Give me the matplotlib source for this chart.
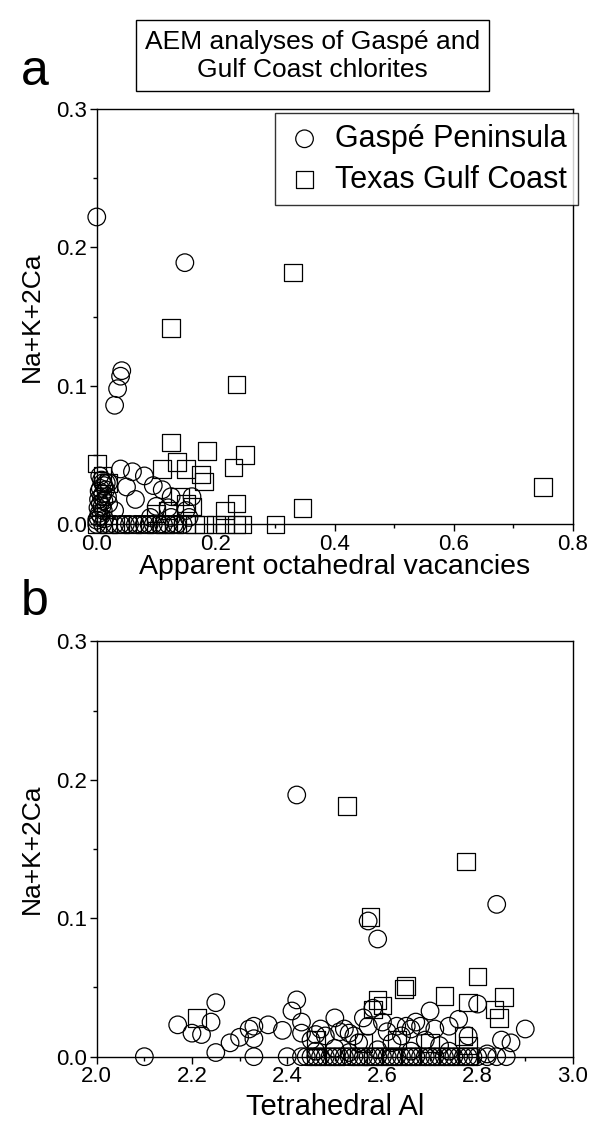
import matplotlib
matplotlib.use("Agg")
import matplotlib.pyplot as plt
from matplotlib.ticker import MultipleLocator, FormatStrFormatter

plt.rcParams['font.family'] = ['Liberation Sans', 'DejaVu Sans']

# panel a: apparent octahedral vacancies vs Na+K+2Ca
gaspe_vac = [0.000, 0.148, 0.042, 0.040, 0.035, 0.030,
             0.040, 0.060, 0.080, 0.095, 0.110, 0.125, 0.160, 0.050, 0.065,
             0.100, 0.120, 0.150, 0.090, 0.125, 0.155, 0.145, 0.020, 0.030,
             0.005, 0.008, 0.010, 0.012, 0.006, 0.004, 0.010, 0.008, 0.003,
             0.012, 0.006, 0.009, 0.002, 0.011, 0.004, 0.007, 0.013, 0.015,
             0.018, 0.020, 0.002, 0.016, 0.000,
             0.000, 0.010, 0.020, 0.030, 0.040, 0.048, 0.055, 0.065, 0.072,
             0.080, 0.088, 0.095, 0.105, 0.112, 0.120, 0.130, 0.135]
gaspe_alk_a = [0.222, 0.189, 0.111, 0.107, 0.098, 0.086,
               0.040, 0.038, 0.035, 0.028, 0.025, 0.020, 0.020, 0.027, 0.018,
               0.013, 0.012, 0.010, 0.005, 0.005, 0.005, 0.000, 0.030, 0.010,
               0.035, 0.032, 0.030, 0.028, 0.026, 0.024, 0.022, 0.020, 0.018,
               0.017, 0.015, 0.013, 0.012, 0.010, 0.008, 0.006, 0.004, 0.025,
               0.020, 0.015, 0.005, 0.030, 0.003,
               0.000, 0.000, 0.000, 0.000, 0.000, 0.000, 0.000, 0.000, 0.000,
               0.000, 0.000, 0.000, 0.000, 0.000, 0.000, 0.000, 0.000]

texas_vac = [0.330, 0.125, 0.235, 0.750, 0.346,
             0.125, 0.135, 0.185, 0.249, 0.230, 0.175, 0.180, 0.110, 0.150,
             0.000, 0.010, 0.020, 0.235, 0.215, 0.140, 0.150, 0.160, 0.100,
             0.120,
             0.000, 0.020, 0.040, 0.060, 0.080, 0.100, 0.115, 0.130, 0.150,
             0.165, 0.180, 0.200, 0.215, 0.235, 0.245, 0.300]
texas_alk_a = [0.182, 0.142, 0.101, 0.027, 0.012,
               0.059, 0.045, 0.053, 0.050, 0.041, 0.036, 0.031, 0.040, 0.040,
               0.044, 0.035, 0.030, 0.015, 0.010, 0.020, 0.015, 0.013, 0.008,
               0.010,
               0.000, 0.000, 0.000, 0.000, 0.000, 0.000, 0.000, 0.000, 0.000,
               0.000, 0.000, 0.000, 0.000, 0.000, 0.000, 0.000]

# panel b: tetrahedral Al vs Na+K+2Ca
gaspe_al = [2.42, 2.84, 2.57, 2.59,
            2.10, 2.17, 2.20, 2.22, 2.24, 2.25, 2.25, 2.28, 2.30, 2.32, 2.33,
            2.33, 2.33, 2.36, 2.39, 2.40, 2.41, 2.42, 2.43, 2.43, 2.45, 2.46,
            2.47, 2.48, 2.50, 2.51, 2.52, 2.53, 2.54, 2.55, 2.56, 2.57, 2.58,
            2.60, 2.61, 2.62, 2.63, 2.64, 2.65, 2.66, 2.67, 2.68, 2.69, 2.70,
            2.71, 2.72, 2.74, 2.76, 2.78, 2.80, 2.85, 2.87, 2.90, 2.59, 2.50,
            2.46, 2.53, 2.66, 2.74, 2.82,
            2.43, 2.44, 2.45, 2.46, 2.47, 2.48, 2.49, 2.50, 2.51, 2.52, 2.53,
            2.54, 2.55, 2.56, 2.57, 2.58, 2.59, 2.60, 2.61, 2.62, 2.63, 2.64,
            2.65, 2.66, 2.67, 2.68, 2.69, 2.70, 2.71, 2.72, 2.73, 2.74, 2.75,
            2.76, 2.77, 2.78, 2.79, 2.80, 2.82, 2.84, 2.86]
gaspe_alk_b = [0.189, 0.110, 0.098, 0.085,
               0.000, 0.023, 0.017, 0.016, 0.025, 0.039, 0.003, 0.010, 0.014,
               0.020, 0.022, 0.013, 0.000, 0.023, 0.019, 0.000, 0.033, 0.041,
               0.025, 0.017, 0.012, 0.016, 0.020, 0.015, 0.028, 0.018, 0.020,
               0.017, 0.015, 0.010, 0.028, 0.022, 0.035, 0.025, 0.018, 0.010,
               0.022, 0.015, 0.022, 0.020, 0.025, 0.022, 0.012, 0.033, 0.020,
               0.008, 0.022, 0.027, 0.015, 0.038, 0.012, 0.010, 0.020, 0.005,
               0.006, 0.004, 0.003, 0.004, 0.004, 0.002,
               0.000, 0.000, 0.000, 0.000, 0.000, 0.000, 0.000, 0.000, 0.000,
               0.000, 0.000, 0.000, 0.000, 0.000, 0.000, 0.000, 0.000, 0.000,
               0.000, 0.000, 0.000, 0.000, 0.000, 0.000, 0.000, 0.000, 0.000,
               0.000, 0.000, 0.000, 0.000, 0.000, 0.000, 0.000, 0.000, 0.000,
               0.000, 0.000, 0.000, 0.000, 0.000]

texas_al = [2.525, 2.775, 2.575, 2.21, 2.80, 2.65, 2.645, 2.73, 2.78, 2.855,
            2.835, 2.845, 2.59, 2.60, 2.58, 2.77, 2.78, 2.46, 2.56, 2.63, 2.70,
            2.46, 2.50, 2.55, 2.58, 2.62, 2.66, 2.70, 2.74, 2.78]
texas_alk_b = [0.181, 0.141, 0.101, 0.028, 0.058, 0.051, 0.049, 0.044, 0.039,
               0.043, 0.034, 0.028, 0.041, 0.037, 0.034, 0.015, 0.008, 0.012,
               0.010, 0.012, 0.010,
               0.000, 0.000, 0.000, 0.000, 0.000, 0.000, 0.000, 0.000, 0.000]

fig = plt.figure(figsize=(5.9, 11.35), dpi=100)

mk = dict(s=160, facecolors='none', edgecolors='black', linewidths=0.9,
          clip_on=False, zorder=3)


def style_axes(ax):
    for sp in ax.spines.values():
        sp.set_linewidth(1.0)
    ax.set_ylim(0, 0.3)
    ax.yaxis.set_major_locator(MultipleLocator(0.1))
    ax.yaxis.set_minor_locator(MultipleLocator(0.05))
    ax.yaxis.set_major_formatter(FormatStrFormatter('%.1f'))
    ax.tick_params(which='major', direction='out', length=5, width=1,
                   labelsize=16, pad=2)
    ax.tick_params(which='minor', direction='out', length=3, width=1)
    ax.set_ylabel('Na+K+2Ca', fontsize=19, labelpad=9)


# panel a
ax1 = fig.add_axes([0.164, 0.538, 0.807, 0.366])
ax1.scatter(gaspe_vac, gaspe_alk_a, marker='o', label='Gaspé Peninsula', **mk)
ax1.scatter(texas_vac, texas_alk_a, marker='s', label='Texas Gulf Coast', **mk)
ax1.set_xlim(0, 0.8)
ax1.xaxis.set_major_locator(MultipleLocator(0.2))
ax1.xaxis.set_minor_locator(MultipleLocator(0.1))
ax1.xaxis.set_major_formatter(FormatStrFormatter('%.1f'))
style_axes(ax1)
ax1.set_xlabel('Apparent octahedral vacancies', fontsize=20.5, labelpad=-1)
leg = ax1.legend(loc='upper right', bbox_to_anchor=(1.01, 0.99), fontsize=22,
                 frameon=True, fancybox=False, edgecolor='black',
                 borderaxespad=0.0, handletextpad=0.4, borderpad=0.35,
                 labelspacing=0.35, handlelength=1.2)
leg.get_frame().set_linewidth(1.0)

# panel b
ax2 = fig.add_axes([0.164, 0.069, 0.807, 0.366])
ax2.scatter(gaspe_al, gaspe_alk_b, marker='o', **mk)
ax2.scatter(texas_al, texas_alk_b, marker='s', **mk)
ax2.set_xlim(2.0, 3.0)
ax2.xaxis.set_major_locator(MultipleLocator(0.2))
ax2.xaxis.set_minor_locator(MultipleLocator(0.1))
ax2.xaxis.set_major_formatter(FormatStrFormatter('%.1f'))
style_axes(ax2)
ax2.set_xlabel('Tetrahedral Al', fontsize=21, labelpad=4)

# title box and panel letters
fig.text(0.53, 0.951, 'AEM analyses of Gaspé and\nGulf Coast chlorites',
         ha='center', va='center', multialignment='center', fontsize=19,
         bbox=dict(boxstyle='square,pad=0.35', fc='white', ec='black', lw=1.0))
fig.text(0.035, 0.925, 'a', fontsize=36, va='baseline')
fig.text(0.035, 0.458, 'b', fontsize=36, va='baseline')

fig.savefig('out.png', dpi=100)
